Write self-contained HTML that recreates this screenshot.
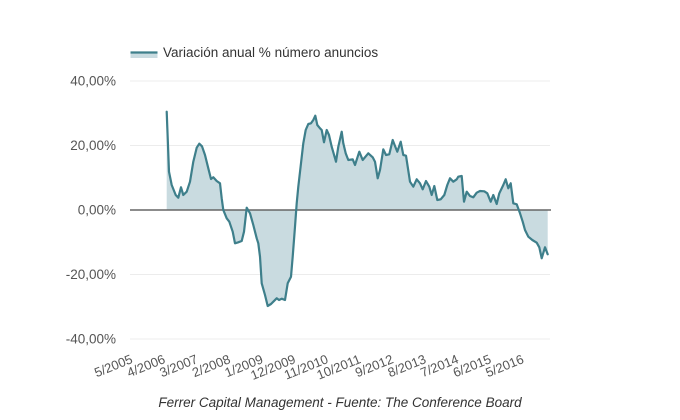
<!DOCTYPE html>
<html>
<head>
<meta charset="utf-8">
<style>
  html, body { margin: 0; padding: 0; background: #ffffff; }
  svg { display: block; }
  text { font-family: "Liberation Sans", Arial, sans-serif; }
</style>
</head>
<body>
<svg width="680" height="420" viewBox="0 0 680 420" xmlns="http://www.w3.org/2000/svg">
  <rect x="0" y="0" width="680" height="420" fill="#ffffff"/>

  <!-- legend -->
  <rect x="130.5" y="52" width="27" height="6" fill="#c9dbe0"/>
  <line x1="130.5" y1="52.5" x2="157.5" y2="52.5" stroke="#3e7f8b" stroke-width="2.2"/>
  <text x="163" y="57" font-size="13.5" fill="#333333">Variación anual % número anuncios</text>

  <!-- gridlines -->
  <g stroke="#ececec" stroke-width="1">
    <line x1="130" y1="81" x2="550" y2="81"/>
    <line x1="130" y1="145.5" x2="550" y2="145.5"/>
    <line x1="130" y1="274.5" x2="550" y2="274.5"/>
    <line x1="130" y1="339" x2="550" y2="339"/>
  </g>

  <!-- y labels -->
  <g font-size="13.5" fill="#555555" text-anchor="end">
    <text x="116" y="85.5">40,00%</text>
    <text x="116" y="150">20,00%</text>
    <text x="116" y="214.5">0,00%</text>
    <text x="116" y="279">-20,00%</text>
    <text x="116" y="343.5">-40,00%</text>
  </g>

  <!-- area -->
  <polygon fill="#c9dbe0" points="166.7,210 166.7,111.7 169,171.7 171.7,185 175.7,195 178.3,197.7 181,187.3 183.3,195 186.7,191.7 190,181.7 193.3,161.7 196.7,147.7 199.3,143.7 202,146.3 205,155 208.3,168.3 211,179 213.3,177.3 216.7,181 220,183.3 221.7,198.3 223.3,210 226.7,218.3 229.3,221.7 232.7,231.7 235,243.3 238.3,242.3 241.7,241 244,231.7 246.7,207.7 250,213.3 253.3,225 256.7,238.3 258.3,243.3 260,256.7 261.7,283.3 265,295 267.7,306 271,304 274.3,300.7 276.7,298.3 279,300 281.7,298.7 285,300 287.7,283.3 291,276.7 292.7,256.7 295,226.7 296.7,203.3 298.3,186.7 301,163.3 303.3,143.3 305.7,130 308.3,124 311,123.3 313.3,120 315.3,115.7 317.3,125 320,128.3 321.7,130 324,142.3 326.7,130 329,135 331.7,146.7 336,161.7 338.3,146.7 341.7,131.7 343.3,143.3 345.7,153.3 348.3,160 352.7,159.3 355,165 359.3,151.7 362.7,160 368.3,153.3 372.7,157.3 375,161.7 377.7,178.3 380,170 383.3,149.3 386,155 389.3,154.3 392.7,140 395,146 397.3,151.7 400.7,141.7 403.3,155 406,155.7 410,181.7 413.3,186.7 416.7,179.3 420,183.3 422.7,189.3 426,181 429.3,186.7 431.7,195 434.3,186 437.3,200 440.7,199.3 444.3,195 447.3,185 450,178.3 453.3,181.7 456.7,179.3 458.3,176.7 461.7,176 464,201.7 466.7,191.7 470,196 473.3,197.3 476.7,192.7 480,191 484.3,191.3 487.3,193.3 490.7,201.7 493.3,195 496.7,204 499.3,193.3 503.3,185 505.7,179.3 508.3,188.3 510.7,183.3 513.3,203.3 516.7,204.3 520,213.3 522.7,221.7 525,230 528.3,236.7 532.3,240 536.7,242.7 539.3,247.3 541.7,258.3 545,247.3 547.7,254.3 547.7,210"/>

  <!-- zero line -->
  <line x1="130" y1="210" x2="551" y2="210" stroke="#666666" stroke-width="1.6"/>

  <!-- series line -->
  <polyline fill="none" stroke="#3e7f8b" stroke-width="2.2" stroke-linejoin="round" stroke-linecap="round" points="166.7,111.7 169,171.7 171.7,185 175.7,195 178.3,197.7 181,187.3 183.3,195 186.7,191.7 190,181.7 193.3,161.7 196.7,147.7 199.3,143.7 202,146.3 205,155 208.3,168.3 211,179 213.3,177.3 216.7,181 220,183.3 221.7,198.3 223.3,210 226.7,218.3 229.3,221.7 232.7,231.7 235,243.3 238.3,242.3 241.7,241 244,231.7 246.7,207.7 250,213.3 253.3,225 256.7,238.3 258.3,243.3 260,256.7 261.7,283.3 265,295 267.7,306 271,304 274.3,300.7 276.7,298.3 279,300 281.7,298.7 285,300 287.7,283.3 291,276.7 292.7,256.7 295,226.7 296.7,203.3 298.3,186.7 301,163.3 303.3,143.3 305.7,130 308.3,124 311,123.3 313.3,120 315.3,115.7 317.3,125 320,128.3 321.7,130 324,142.3 326.7,130 329,135 331.7,146.7 336,161.7 338.3,146.7 341.7,131.7 343.3,143.3 345.7,153.3 348.3,160 352.7,159.3 355,165 359.3,151.7 362.7,160 368.3,153.3 372.7,157.3 375,161.7 377.7,178.3 380,170 383.3,149.3 386,155 389.3,154.3 392.7,140 395,146 397.3,151.7 400.7,141.7 403.3,155 406,155.7 410,181.7 413.3,186.7 416.7,179.3 420,183.3 422.7,189.3 426,181 429.3,186.7 431.7,195 434.3,186 437.3,200 440.7,199.3 444.3,195 447.3,185 450,178.3 453.3,181.7 456.7,179.3 458.3,176.7 461.7,176 464,201.7 466.7,191.7 470,196 473.3,197.3 476.7,192.7 480,191 484.3,191.3 487.3,193.3 490.7,201.7 493.3,195 496.7,204 499.3,193.3 503.3,185 505.7,179.3 508.3,188.3 510.7,183.3 513.3,203.3 516.7,204.3 520,213.3 522.7,221.7 525,230 528.3,236.7 532.3,240 536.7,242.7 539.3,247.3 541.7,258.3 545,247.3 547.7,254.3"/>

  <!-- x labels -->
  <g font-size="13" fill="#555555" text-anchor="end">
    <text transform="translate(133.5,362.5) rotate(-22)">5/2005</text>
    <text transform="translate(166.1,362.5) rotate(-22)">4/2006</text>
    <text transform="translate(198.7,362.5) rotate(-22)">3/2007</text>
    <text transform="translate(231.3,362.5) rotate(-22)">2/2008</text>
    <text transform="translate(263.9,362.5) rotate(-22)">1/2009</text>
    <text transform="translate(296.5,362.5) rotate(-22)">12/2009</text>
    <text transform="translate(329.1,362.5) rotate(-22)">11/2010</text>
    <text transform="translate(361.7,362.5) rotate(-22)">10/2011</text>
    <text transform="translate(394.3,362.5) rotate(-22)">9/2012</text>
    <text transform="translate(426.9,362.5) rotate(-22)">8/2013</text>
    <text transform="translate(459.5,362.5) rotate(-22)">7/2014</text>
    <text transform="translate(492.1,362.5) rotate(-22)">6/2015</text>
    <text transform="translate(524.7,362.5) rotate(-22)">5/2016</text>
  </g>

  <!-- footer -->
  <text x="340" y="407" font-size="13.5" font-style="italic" fill="#333333" text-anchor="middle">Ferrer Capital Management - Fuente: The Conference Board</text>
</svg>
</body>
</html>
